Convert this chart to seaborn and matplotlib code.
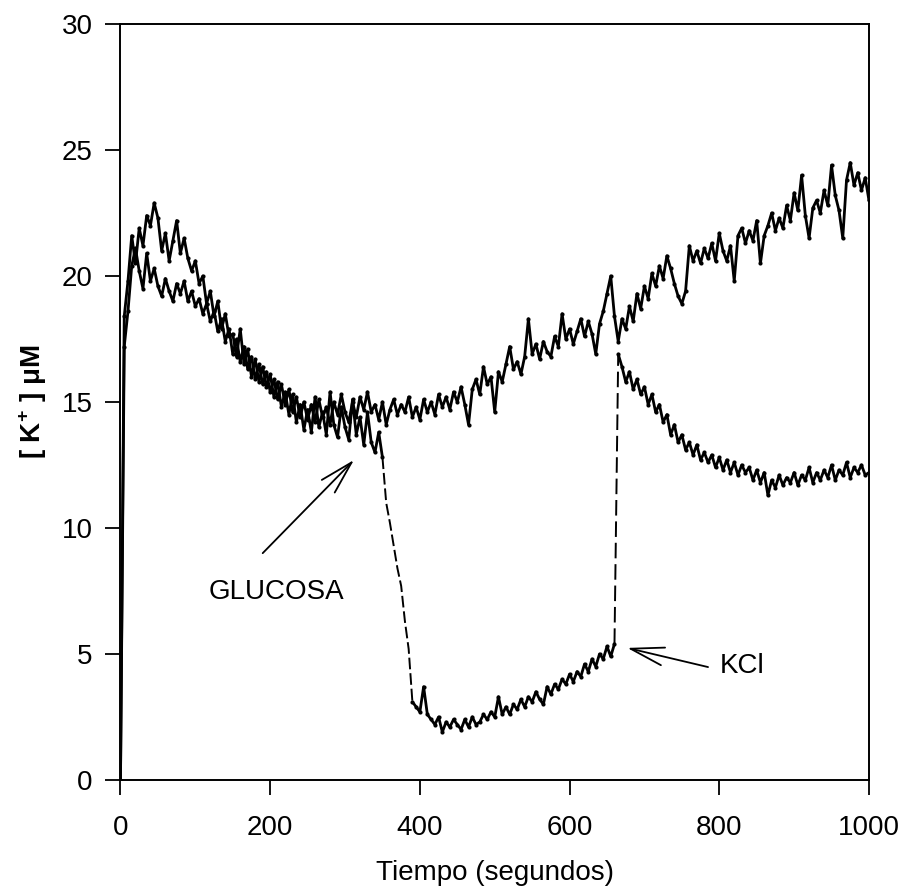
import numpy as np
import matplotlib
matplotlib.use('Agg')
import matplotlib.pyplot as plt
import seaborn as sns

# tiempo de muestreo (s) y concentraciones
tiempo = np.arange(0, 1001, 5)

control = [
    0.0, 17.2, 18.6, 20.4, 21.1, 20.2, 19.5, 20.9, 19.8, 20.3,
    19.6, 19.2, 19.9, 19.4, 19.0, 19.7, 19.3, 19.8, 19.0, 19.4,
    18.8, 19.1, 18.5, 18.9, 18.2, 18.6, 17.8, 18.3, 17.4, 17.9,
    16.9, 17.5, 16.6, 17.2, 16.3, 16.8, 15.9, 16.5, 15.7, 16.2,
    15.4, 15.9, 15.1, 15.7, 14.9, 15.5, 14.6, 15.2, 14.4, 15.0,
    14.3, 14.9, 14.2, 15.1, 14.4, 14.8, 14.1, 15.0, 14.5, 15.3,
    14.6, 14.2, 15.0, 14.4, 15.2, 14.7, 15.4, 14.6, 14.9, 14.3,
    15.0, 14.1, 14.7, 15.1, 14.5, 14.9, 14.6, 15.2, 14.4, 14.8,
    14.3, 15.1, 14.6, 15.0, 14.5, 15.3, 14.8, 15.2, 14.7, 15.4,
    15.0, 15.6, 14.9, 14.1, 15.5, 15.9, 15.3, 16.4, 15.7, 16.0,
    14.6, 16.2, 15.8, 16.5, 17.2, 16.3, 16.6, 16.1, 16.8, 18.3,
    16.9, 17.3, 16.7, 17.4, 17.0, 16.8, 17.6, 17.2, 18.5, 17.5,
    17.9, 17.3, 17.8, 18.3, 17.6, 18.2, 17.7, 16.9, 18.1, 18.6,
    19.3, 20.0, 18.4, 17.4, 18.3, 17.9, 18.8, 18.2, 19.3, 18.7,
    19.6, 19.1, 20.1, 19.6, 20.4, 19.9, 20.8, 20.3, 19.7, 19.2,
    18.9, 19.4, 21.2, 20.6, 21.0, 20.5, 21.1, 20.7, 21.3, 20.6,
    21.7, 21.0, 20.6, 21.2, 19.8, 21.6, 21.9, 21.3, 21.8, 21.4,
    22.2, 20.5, 21.6, 22.0, 22.5, 21.8, 22.3, 21.9, 22.8, 22.2,
    23.3, 22.6, 24.0, 22.4, 21.5, 22.7, 23.0, 22.5, 23.4, 22.8,
    24.4, 23.2, 22.6, 21.5, 23.8, 24.5, 23.6, 24.1, 23.4, 23.9,
    23.0,
]

glucosa = [
    0.0, 18.4, 19.8, 21.6, 20.5, 21.9, 21.2, 22.4, 22.0, 22.9,
    22.3, 21.0, 21.7, 20.6, 21.4, 22.2, 20.9, 21.5, 20.7, 20.2,
    20.6, 19.7, 20.0, 18.9, 19.4, 18.4, 19.0, 17.9, 18.5, 17.6,
    17.7, 16.8, 17.9, 16.5, 17.1, 16.0, 16.7, 15.8, 16.4, 15.6,
    16.1, 15.2, 15.8, 14.8, 15.4, 14.5, 15.3, 14.2, 14.9, 13.9,
    14.7, 13.8, 15.2, 14.0, 14.6, 13.7, 15.4, 14.1, 13.6, 14.8,
    14.0, 13.5, 15.1, 13.7, 14.4, 13.3, 14.6, 13.4, 13.0, 13.8,
    12.8, 11.0, 10.2, 9.3, 8.4, 7.7, 6.3, 5.2, 3.1, 2.9,
    2.7, 3.7, 2.6, 2.4, 2.2, 2.5, 1.9, 2.3, 2.1, 2.4,
    2.2, 2.0, 2.4, 2.1, 2.5, 2.2, 2.3, 2.6, 2.4, 2.7,
    2.5, 3.3, 2.6, 2.9, 2.6, 3.0, 2.8, 3.2, 2.9, 3.3,
    3.1, 3.5, 3.2, 3.0, 3.7, 3.4, 3.8, 3.6, 4.0, 3.8,
    4.2, 3.9, 4.3, 4.1, 4.6, 4.3, 4.8, 4.5, 5.0, 4.8,
    5.3, 4.9, 5.4, 16.9, 16.4, 15.8, 16.2, 15.5, 15.9, 15.3,
    15.6, 14.9, 15.3, 14.6, 14.9, 14.2, 14.5, 13.7, 14.1, 13.4,
    13.7, 13.1, 13.4, 12.9, 13.3, 12.7, 13.0, 12.6, 12.9, 12.4,
    12.8, 12.3, 12.7, 12.2, 12.6, 12.1, 12.5, 12.2, 12.4, 11.9,
    12.3, 11.8, 12.2, 11.3, 11.9, 11.6, 12.1, 11.7, 12.0, 11.8,
    12.2, 11.7, 12.1, 11.9, 12.4, 11.8, 12.2, 11.9, 12.3, 12.0,
    12.5, 11.9, 12.3, 12.1, 12.6, 12.0, 12.4, 12.2, 12.5, 12.1,
    12.2,
]

control = np.array(control)
glucosa = np.array(glucosa)

sns.set_style('ticks')
plt.rcParams['font.family'] = ['Liberation Sans', 'DejaVu Sans']
plt.rcParams['mathtext.fontset'] = 'custom'
plt.rcParams['mathtext.rm'] = 'Liberation Sans'
plt.rcParams['mathtext.bf'] = 'Liberation Sans:bold'
plt.rcParams['text.color'] = 'black'
plt.rcParams['axes.labelcolor'] = 'black'

fig = plt.figure(figsize=(9.08, 8.93), dpi=100)
ax = fig.add_axes([0.1327, 0.1266, 0.8243, 0.8465])

# traza control
sns.lineplot(x=tiempo, y=control, ax=ax, color='black', lw=2.0,
             marker='o', markersize=3, markeredgewidth=0, estimator=None)

# traza con glucosa: tramos continuos y tramos de caida rapida (discontinuos)
tramos = [(0, 71, '-'), (70, 79, (0, (6, 2))), (78, 133, '-'),
          (132, 134, (0, (8, 3))), (133, 201, '-')]
for a, b, ls in tramos:
    sns.lineplot(x=tiempo[a:b], y=glucosa[a:b], ax=ax, color='black',
                 lw=2.0 if ls == '-' else 1.4, linestyle=ls,
                 marker='o' if ls == '-' else None, markersize=3,
                 markeredgewidth=0, estimator=None)

ax.set_xlim(0, 1000)
ax.set_ylim(0, 30)
ax.set_xticks([0, 200, 400, 600, 800, 1000])
ax.set_yticks([0, 5, 10, 15, 20, 25, 30])

for s in ax.spines.values():
    s.set_color('black')
    s.set_linewidth(1.4)
ax.tick_params(axis='both', direction='out', length=11, width=1.3,
               colors='black', labelsize=20)
ax.tick_params(axis='x', pad=14)
ax.tick_params(axis='y', pad=9)

ax.set_xlabel('Tiempo (segundos)', fontsize=20, labelpad=14)
ax.set_ylabel(r'[ K$^{\mathbf{+}}$ ] μM', fontsize=20, fontweight='bold', labelpad=9)

flecha = dict(arrowstyle='->,head_length=2.4,head_width=0.65', color='black',
              lw=1.3, mutation_scale=10, shrinkA=0, shrinkB=0)
ax.annotate('', xy=(312, 12.7), xytext=(190, 9.0), arrowprops=flecha)
ax.text(209, 7.45, 'GLUCOSA', fontsize=20, ha='center', va='center', color='black')
ax.annotate('', xy=(677, 5.24), xytext=(785, 4.48), arrowprops=flecha)
ax.text(830, 4.52, 'KCl', fontsize=20, ha='center', va='center', color='black')

fig.savefig('out.png', dpi=100)
